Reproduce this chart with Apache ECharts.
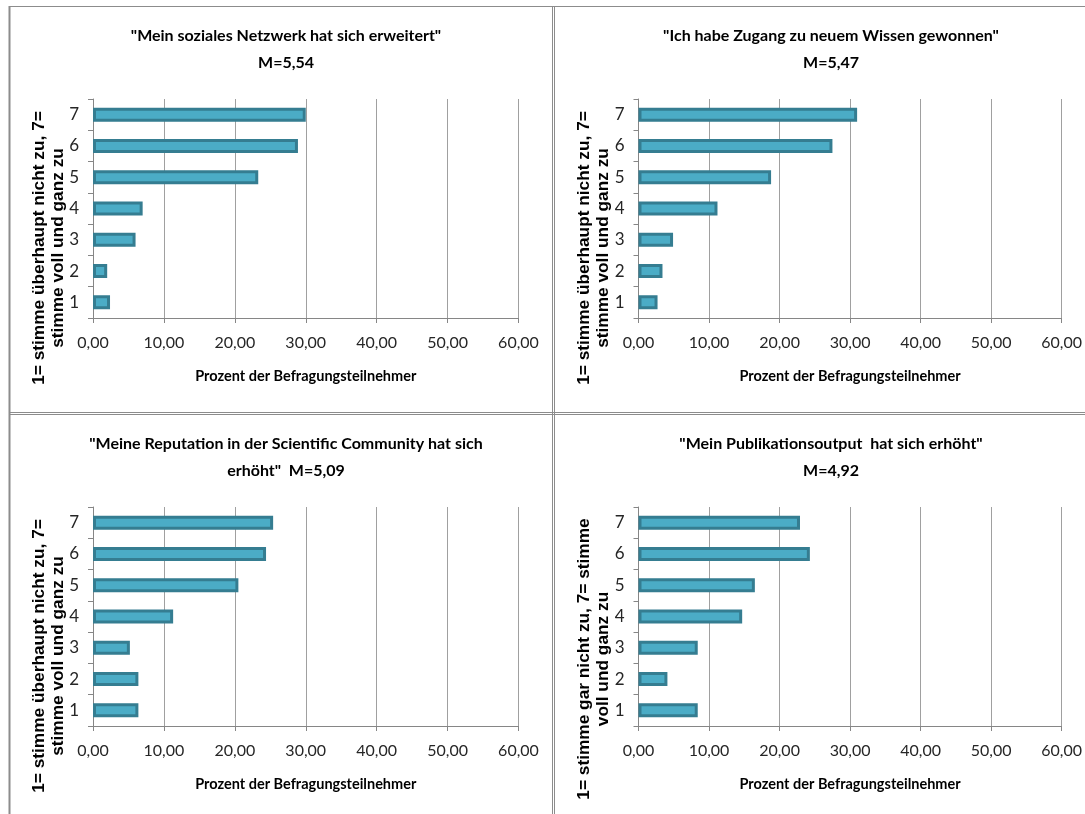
<!DOCTYPE html>
<html>
<head>
	<meta charset="utf-8">
	<title>Befragung Netzwerk</title>
	<script src="https://cdn.jsdelivr.net/npm/echarts@6/dist/echarts.min.js"></script>
	<style type="text/css">
		html, body { margin: 0; padding: 0; background-color: #fff; }
		#chartBox { width: 1085px; height: 814px; }
	</style>
</head>
<body>
<div id="chartBox"></div>

<script>
	// Antwortstufen und Achsenbeschriftung
	var categories = ['1', '2', '3', '4', '5', '6', '7'];
	var tickLabels = ['0,00', '10,00', '20,00', '30,00', '40,00', '50,00', '60,00'];

	// Prozent der Befragungsteilnehmer je Stufe 1..7
	var netzwerk    = [2.4, 2.0, 6.0, 7.0, 23.3, 28.9, 30.0];
	var wissen      = [2.7, 3.4, 4.9, 11.2, 18.8, 27.5, 31.0];
	var reputation  = [6.4, 6.4, 5.2, 11.3, 20.5, 24.4, 25.4];
	var publikation = [8.4, 4.1, 8.4, 14.7, 16.5, 24.3, 22.9];

	var titles = [
		'"Mein soziales Netzwerk hat sich erweitert"\nM=5,54',
		'"Ich habe Zugang zu neuem Wissen gewonnen"\nM=5,47',
		'"Meine Reputation in der Scientific Community hat sich\nerhöht"  M=5,09',
		'"Mein Publikationsoutput  hat sich erhöht"\nM=4,92'
	];
	var yTitles = [
		'1= stimme überhaupt nicht zu, 7=\nstimme voll und ganz zu',
		'1= stimme überhaupt nicht zu, 7=\nstimme voll und ganz zu',
		'1= stimme überhaupt nicht zu, 7=\nstimme voll und ganz zu',
		'1= stimme gar nicht zu, 7= stimme\nvoll und ganz zu'
	];
	var xTitle = 'Prozent der Befragungsteilnehmer';

	var narrow = '"Lato", sans-serif';
	var wide = '"Liberation Sans", Arial, sans-serif';
	var axisGray = '#868686';

	// Lage der vier Diagramme
	var panels = [
		{ data: netzwerk,    left: 93,    top: 99,  cx: 281, ty: 17.5,  yx: 48.5,  yy: 248 },
		{ data: wissen,      left: 638.5, top: 99,  cx: 826, ty: 17.5,  yx: 593.5, yy: 248 },
		{ data: reputation,  left: 93,    top: 507, cx: 281, ty: 425.5, yx: 48.5,  yy: 656 },
		{ data: publikation, left: 638.5, top: 507, cx: 826, ty: 425.5, yx: 593.5, yy: 659 }
	];

	var grid = [], xAxis = [], yAxis = [], series = [], title = [], graphic = [];

	panels.forEach(function (p, i) {
		grid.push({ left: p.left, top: p.top, width: 425.5, height: 219, containLabel: false });

		xAxis.push({
			gridIndex: i,
			type: 'value',
			min: 0, max: 60, interval: 10,
			name: xTitle,
			nameLocation: 'middle',
			nameGap: 51,
			nameTextStyle: { fontFamily: narrow, fontWeight: 'bold', fontSize: 14.5, color: '#000' },
			axisLine: { show: true, lineStyle: { color: axisGray } },
			axisTick: { show: true, length: 5, lineStyle: { color: axisGray } },
			axisLabel: {
				margin: 17,
				fontFamily: narrow, fontSize: 16, color: '#262626',
				formatter: function (v) { return tickLabels[Math.round(v / 10)]; }
			},
			splitLine: { show: true, lineStyle: { color: '#a0a0a0' } }
		});

		yAxis.push({
			gridIndex: i,
			type: 'category',
			data: categories,
			axisLine: { show: true, lineStyle: { color: axisGray } },
			axisTick: { show: true, length: 5, lineStyle: { color: axisGray } },
			axisLabel: { margin: 14, fontFamily: narrow, fontSize: 17, color: '#262626' },
			splitLine: { show: false }
		});

		series.push({
			type: 'bar',
			xAxisIndex: i,
			yAxisIndex: i,
			data: p.data,
			barWidth: 14,
			itemStyle: { color: '#4bacc6', borderColor: '#357d91', borderWidth: 3 },
			silent: true
		});

		title.push({
			text: titles[i],
			left: p.cx,
			top: p.ty,
			textAlign: 'center',
			textStyle: { fontFamily: narrow, fontWeight: 'bold', fontSize: 16, lineHeight: 27, color: '#000' }
		});

		graphic.push({
			type: 'text',
			x: p.yx,
			y: p.yy,
			rotation: Math.PI / 2,
			style: {
				text: yTitles[i],
				fontFamily: wide, fontWeight: 'bold', fontSize: 17.3, lineHeight: 19,
				fill: '#000', textAlign: 'center', textVerticalAlign: 'middle'
			}
		});
	});

	// Rahmen der Diagrammflächen
	var frame = { stroke: '#8c8c8c', lineWidth: 1 };
	graphic.push(
		{ type: 'line', shape: { x1: 9, y1: 6.5, x2: 1085, y2: 6.5 }, style: frame },
		{ type: 'line', shape: { x1: 9.5, y1: 6, x2: 9.5, y2: 814 }, style: { stroke: '#8c8c8c', lineWidth: 2 } },
		{ type: 'line', shape: { x1: 552.5, y1: 6, x2: 552.5, y2: 814 }, style: frame },
		{ type: 'line', shape: { x1: 554.5, y1: 6, x2: 554.5, y2: 814 }, style: frame },
		{ type: 'line', shape: { x1: 9, y1: 412.5, x2: 1085, y2: 412.5 }, style: frame },
		{ type: 'line', shape: { x1: 9, y1: 414.5, x2: 1085, y2: 414.5 }, style: frame }
	);

	var myChart = echarts.init(document.getElementById('chartBox'));
	myChart.setOption({
		animation: false,
		title: title,
		grid: grid,
		xAxis: xAxis,
		yAxis: yAxis,
		series: series,
		graphic: graphic
	});
</script>
</body>
</html>
